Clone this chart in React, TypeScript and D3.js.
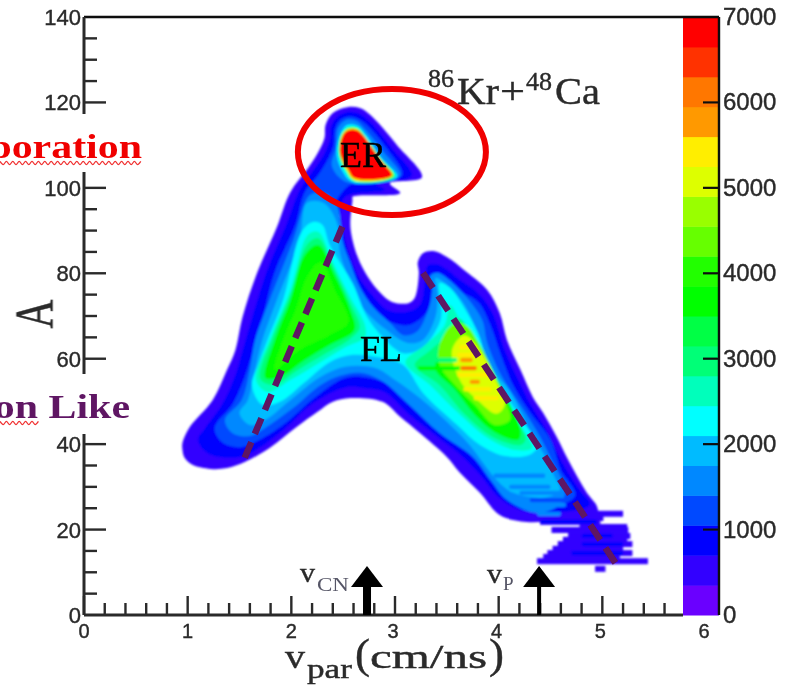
import React from "react";
import * as d3 from "d3";

// 86Kr+48Ca, A vs v_par, ROOT style colz map
type Pt = [number, number];

const width = 793;
const height = 686;

const vTicks = [0, 1, 2, 3, 4, 5, 6];
const aTicks = [0, 20, 40, 60, 80, 100, 120, 140];
const zTicks = [0, 1000, 2000, 3000, 4000, 5000, 6000, 7000];

// palette from bottom (0) to top (7000), 20 bins
const paletteColors = [
  "#6a00ff", "#3000ff", "#0000ff", "#0048ff", "#0088ff",
  "#00bbff", "#00ffff", "#00ffbb", "#00ff77", "#00ff44",
  "#00ff00", "#22ff00", "#66ff00", "#99ff00", "#ddff00",
  "#ffee00", "#ff9900", "#ff7700", "#ff3300", "#ff0000",
];

// contours, [v_par, A]
const contour350: Pt[] = [
  [0.95, 40.3], [0.95, 38.6], [0.97, 36.8], [1.05, 35.1], [1.22, 34.2], [1.38, 34.4], [1.55, 35.8],
  [1.79, 39.1], [2.05, 44.0], [2.25, 47.5], [2.4, 49.9], [2.57, 50.8], [2.88, 49.9], [3.05, 46.4],
  [3.24, 42.6], [3.5, 37.0], [3.62, 33.5], [3.82, 28.6], [4.01, 23.4], [4.27, 21.8], [4.59, 22.2],
  [4.95, 22.7], [4.95, 25.3], [4.85, 28.6], [4.76, 32.3], [4.66, 36.8], [4.56, 41.7], [4.43, 47.3],
  [4.33, 51.0], [4.21, 57.4], [4.08, 64.4], [4.01, 70.7], [3.89, 76.1], [3.69, 80.3], [3.5, 83.8],
  [3.37, 85.2], [3.27, 84.7], [3.22, 82.6], [3.23, 80.1], [3.19, 74.2], [3.13, 73.0], [2.97, 73.3],
  [2.86, 75.4], [2.74, 79.1], [2.64, 83.8], [2.57, 90.8], [2.59, 97.2], [2.59, 97.9], [3.05, 98.8],
  [2.95, 101.1], [3.26, 102.5], [3.02, 110.0], [2.76, 117.1], [2.66, 118.7], [2.54, 118.9], [2.4, 117.5],
  [2.33, 114.7], [2.32, 111.7], [2.26, 108.4], [2.16, 104.6], [1.99, 99.0], [1.86, 90.8], [1.67, 80.1],
  [1.53, 69.8], [1.46, 62.0], [1.38, 57.4], [1.24, 50.3], [1.02, 44.0],
];
const contour700: Pt[] = [
  [1.1, 41.0], [1.19, 37.9], [1.38, 36.8], [1.57, 37.5], [1.89, 42.6], [2.21, 49.6], [2.54, 53.4],
  [2.71, 53.1], [2.9, 52.2], [3.14, 46.8], [3.39, 42.1], [3.63, 37.5], [3.82, 32.8], [4.01, 27.4],
  [4.21, 24.6], [4.59, 24.1], [4.88, 25.8], [4.78, 29.3], [4.6, 36.3], [4.46, 43.3], [4.31, 49.2],
  [4.19, 55.0], [4.06, 62.0], [3.95, 70.2], [3.82, 74.9], [3.63, 78.4], [3.43, 81.9], [3.32, 81.9],
  [3.29, 78.4], [3.24, 72.6], [3.1, 70.9], [2.93, 71.4], [2.78, 74.9], [2.64, 79.6], [2.52, 87.8],
  [2.47, 93.6], [2.52, 97.9], [2.9, 99.5], [2.81, 101.1], [3.16, 102.8], [2.97, 109.3], [2.74, 115.9],
  [2.64, 117.5], [2.55, 117.8], [2.44, 116.6], [2.38, 114.2], [2.37, 111.2], [2.3, 107.2], [2.2, 103.7],
  [2.08, 99.5], [1.95, 91.3], [1.76, 80.3], [1.62, 69.5], [1.53, 62.0], [1.46, 56.2], [1.33, 49.2], [1.17, 43.8],
];
const contour1050: Pt[] = [
  [1.26, 43.8], [1.33, 40.5], [1.5, 39.3], [1.72, 41.4], [1.94, 44.9], [2.23, 51.0], [2.52, 55.5],
  [2.76, 55.5], [2.95, 53.8], [3.19, 49.2], [3.43, 44.5], [3.68, 39.3], [3.92, 32.8], [4.16, 26.9],
  [4.59, 25.8], [4.74, 28.1], [4.6, 33.9], [4.5, 41.0], [4.3, 47.5], [4.14, 53.8], [4.02, 60.9],
  [3.92, 67.9], [3.8, 73.3], [3.58, 76.1], [3.43, 77.3], [3.36, 76.1], [3.32, 71.4], [3.14, 67.9],
  [2.9, 69.1], [2.71, 72.6], [2.57, 77.3], [2.45, 85.5], [2.4, 92.5], [2.45, 97.6], [2.59, 101.1],
  [2.81, 101.8], [3.07, 103.0], [2.93, 108.9], [2.72, 114.9], [2.62, 116.4], [2.54, 116.6], [2.46, 115.6],
  [2.42, 113.5], [2.41, 110.0], [2.35, 106.5], [2.26, 103.0], [2.13, 99.0], [2.04, 91.3], [1.84, 80.3],
  [1.72, 69.1], [1.62, 60.9], [1.54, 55.0], [1.43, 49.2],
];
const contour1400: Pt[] = [
  [1.36, 45.7], [1.43, 42.6], [1.6, 41.9], [1.79, 44.5], [2.02, 48.5], [2.28, 53.8], [2.47, 56.0],
  [2.66, 56.7], [2.86, 55.0], [3.12, 49.6], [3.43, 42.6], [3.75, 37.0], [3.92, 31.6], [4.08, 26.9],
  [4.37, 23.9], [4.59, 25.8], [4.64, 29.3], [4.51, 36.3], [4.4, 41.7], [4.26, 47.3], [4.11, 52.7],
  [4.01, 56.7], [3.89, 63.7], [3.84, 69.1], [3.69, 74.4], [3.5, 78.9], [3.41, 80.1], [3.34, 79.4],
  [3.36, 75.6], [3.31, 70.7], [3.21, 66.3], [3.08, 65.5], [2.95, 68.4], [2.79, 72.1], [2.66, 76.8],
  [2.57, 82.4], [2.5, 87.1], [2.44, 96.0], [2.32, 98.8], [2.18, 98.3], [2.02, 87.8], [1.79, 73.7],
  [1.65, 64.4], [1.6, 57.4], [1.52, 50.3],
];
const contour1750: Pt[] = [
  [1.5, 47.3], [1.6, 44.5], [1.75, 45.7], [1.99, 50.3], [2.28, 55.7], [2.52, 58.1], [2.81, 57.8],
  [3.0, 55.0], [3.24, 50.8], [3.48, 45.7], [3.72, 39.8], [3.85, 35.6], [3.98, 31.6], [4.14, 28.6],
  [4.47, 27.6], [4.59, 29.3], [4.54, 32.3], [4.43, 37.9], [4.31, 42.6], [4.22, 47.3], [4.1, 52.7],
  [3.96, 56.7], [3.84, 62.0], [3.77, 67.4], [3.66, 73.0], [3.48, 77.7], [3.39, 78.9], [3.41, 75.4],
  [3.39, 69.8], [3.27, 64.4], [3.12, 63.7], [2.92, 66.7], [2.73, 70.7], [2.59, 75.4], [2.52, 80.8],
  [2.47, 84.7], [2.44, 91.8], [2.31, 96.5], [2.15, 96.5], [2.08, 87.8], [1.86, 73.7], [1.72, 64.4],
  [1.65, 57.4], [1.58, 50.3],
];
const contour2100: Pt[] = [
  [1.62, 53.8], [1.72, 49.2], [1.89, 49.9], [2.13, 54.5], [2.37, 59.2], [2.59, 60.9], [2.87, 60.2],
  [3.08, 58.5], [3.27, 52.0], [3.6, 44.5], [3.82, 39.8], [4.06, 37.2], [4.3, 37.5], [4.38, 39.8],
  [4.26, 44.5], [4.13, 49.2], [3.98, 55.0], [3.88, 60.2], [3.8, 66.0], [3.68, 71.4], [3.53, 76.6],
  [3.43, 77.7], [3.45, 71.4], [3.43, 68.4], [3.27, 62.7], [3.08, 61.3], [2.88, 65.1], [2.73, 69.8],
  [2.59, 77.7], [2.37, 86.6], [2.3, 91.3], [2.21, 92.0], [2.1, 89.7], [1.92, 73.7], [1.77, 64.4], [1.68, 58.5],
];

// left lobe (fission like, near 2.3 cm/ns)
const lobeLeft2450: Pt[] = [
  [1.66, 55.0], [1.77, 52.2], [1.99, 55.0], [2.28, 59.2], [2.52, 62.7], [2.71, 65.1], [2.71, 67.9],
  [2.57, 74.4], [2.4, 82.6], [2.26, 89.7], [2.16, 89.0], [1.99, 76.1], [1.81, 65.5],
];
const lobeLeft2800: Pt[] = [
  [1.7, 55.3], [1.83, 53.9], [2.06, 57.3], [2.33, 61.2], [2.57, 64.7], [2.66, 67.3], [2.57, 72.9],
  [2.41, 81.1], [2.26, 88.2], [2.15, 86.6], [1.99, 74.9], [1.82, 65.0],
];
const lobeLeft3500: Pt[] = [
  [1.75, 55.5], [1.89, 55.7], [2.13, 59.7], [2.37, 63.2], [2.61, 66.7], [2.57, 71.4], [2.42, 79.6],
  [2.26, 86.6], [2.13, 84.3], [1.99, 73.7], [1.84, 64.4],
];
const lobeLeft3850: Pt[] = [
  [1.84, 57.4], [2.08, 62.0], [2.37, 65.5], [2.55, 68.6], [2.42, 76.1], [2.28, 82.6], [2.16, 79.6],
  [2.04, 71.4], [1.92, 64.4],
];

// right lobe (near 3.8 cm/ns)
const lobeRight2450: Pt[] = [
  [3.1, 59.2], [3.34, 53.8], [3.63, 46.8], [3.92, 41.0], [4.16, 38.6], [4.32, 39.1], [4.21, 44.5],
  [4.06, 51.5], [3.92, 58.5], [3.78, 64.4], [3.63, 69.1], [3.53, 72.6], [3.48, 67.9], [3.29, 63.2],
];
const lobeRight2800: Pt[] = [
  [3.19, 58.5], [3.43, 53.8], [3.68, 46.8], [3.94, 41.7], [4.21, 39.8], [4.26, 41.0], [4.15, 46.8],
  [4.01, 53.8], [3.88, 60.2], [3.74, 66.0], [3.61, 69.5], [3.5, 65.5], [3.34, 62.0],
];
const lobeRight3500: Pt[] = [
  [3.39, 57.4], [3.58, 52.7], [3.77, 46.8], [3.96, 42.8], [4.19, 41.0], [4.21, 43.3], [4.09, 50.3],
  [3.96, 56.2], [3.78, 63.2], [3.65, 67.9], [3.53, 63.2], [3.41, 60.2],
];
const lobeRight4200: Pt[] = [
  [3.43, 63.2], [3.55, 67.9], [3.68, 67.9], [3.82, 63.2], [3.96, 56.2], [4.06, 50.3], [4.11, 45.7],
  [3.96, 44.5], [3.77, 49.2], [3.58, 53.8], [3.43, 58.5],
];
const lobeRight4900: Pt[] = [
  [3.55, 62.0], [3.67, 65.5], [3.82, 62.0], [3.96, 55.5], [4.06, 49.2], [3.98, 47.1], [3.8, 50.2], [3.63, 54.8],
];

// evaporation residue peak
const er1400: Pt[] = [
  [2.43, 109.3], [2.45, 114.0], [2.53, 115.9], [2.63, 115.6], [2.72, 113.5], [2.89, 108.4], [3.05, 103.0],
  [2.95, 101.6], [2.57, 101.1], [2.47, 102.3], [2.39, 105.3],
];
const er2100: Pt[] = [
  [2.47, 112.4], [2.54, 114.7], [2.64, 114.5], [2.72, 112.4], [2.87, 107.0], [3.02, 102.8], [2.95, 101.8],
  [2.59, 101.4], [2.5, 103.7], [2.44, 107.7],
];
const er3150: Pt[] = [
  [2.48, 112.4], [2.55, 114.2], [2.64, 114.0], [2.71, 112.1], [2.86, 107.0], [3.0, 102.8], [2.93, 101.8],
  [2.6, 101.6], [2.53, 103.7], [2.46, 107.7],
];
const er5250: Pt[] = [
  [2.49, 112.4], [2.55, 113.8], [2.63, 113.8], [2.7, 112.1], [2.86, 106.5], [2.98, 103.0], [2.92, 102.1],
  [2.61, 101.8], [2.54, 103.9], [2.47, 107.9],
];
const er6650: Pt[] = [
  [2.5, 112.4], [2.55, 113.5], [2.63, 113.5], [2.69, 112.4], [2.78, 109.3], [2.86, 106.5], [2.97, 103.0],
  [2.92, 102.3], [2.61, 102.3], [2.55, 104.2], [2.47, 108.2],
];

const contourLayers: [number, Pt[]][] = [
  [350, contour350], [700, contour700], [1050, contour1050], [1400, contour1400], [1750, contour1750], [2100, contour2100],
  [2450, lobeLeft2450], [2800, lobeLeft2800], [3500, lobeLeft3500], [3850, lobeLeft3850],
  [2450, lobeRight2450], [2800, lobeRight2800], [3500, lobeRight3500], [4200, lobeRight4200], [4900, lobeRight4900],
  [1400, er1400], [2100, er2100], [3150, er3150], [5250, er5250], [6650, er6650],
];

// low A tail: single mass rows [A, v0, v1]
const tailRows: number[][] = [
  [23.7, 4.37, 5.2], [22.7, 4.27, 5.01], [21.8, 4.4, 4.98], [20.6, 4.78, 5.24], [19.9, 4.51, 5.25],
  [18.5, 4.67, 5.27], [17.6, 4.62, 5.24], [16.6, 4.57, 5.29], [15.5, 4.52, 5.2], [14.5, 4.47, 5.29],
  [13.6, 4.43, 5.17], [12.6, 4.37, 5.44], [10.8, 4.93, 5.03],
];

// stripes from the A binning [A, v0, v1, level]
const stripes: number[][] = [
  [35.8, 3.95, 4.3, 1750], [33.9, 4.05, 4.35, 1750], [32.6, 3.95, 4.45, 1400], [31.1, 4.05, 4.45, 1750],
  [30.0, 4.1, 4.5, 1400], [28.6, 4.2, 4.6, 1400], [26.9, 4.3, 4.65, 1050],
  [25.8, 4.25, 4.65, 1400], [23.7, 4.37, 4.6, 1400], [21.8, 4.4, 4.95, 700], [18.5, 4.8, 5.1, 700],
  [16.6, 4.8, 5.2, 700], [14.5, 4.7, 5.2, 700],
  [57.8, 3.22, 3.63, 3500], [59.7, 3.3, 3.6, 2800],
  [62.7, 3.62, 3.78, 5250], [60.9, 3.6, 3.82, 5250], [56.2, 3.6, 3.93, 5250], [52.9, 3.66, 3.93, 5250], [50.8, 3.76, 4.0, 5250],
  [59.7, 3.63, 3.75, 5600], [57.8, 3.63, 3.79, 5950], [54.6, 3.72, 3.82, 5600],
];

// guide lines [v, A]
const lineFusion: Pt[] = [[1.55, 36.8], [2.52, 92.5]];
const lineDeep: Pt[] = [[3.27, 80.1], [5.14, 11.7]];
const arrowCN = { v: 2.73, tip: 11.5 };
const arrowP = { v: 4.39, tip: 11.5 };
const ring = { v: 2.97, a: 108.4, rv: 0.907, ra: 14.75 };

const ink = "#2a2a2a";
const purple = "#5e1464";
const serif = "'Liberation Serif', serif";
const sans = "'Liberation Sans', sans-serif";

const x = d3.scaleLinear().domain([0, 6]).range([84, 706]);
const y = d3.scaleLinear().domain([0, 140]).range([615, 17]);
const colorOf = d3.scaleQuantize<string>().domain([0, 7000]).range(paletteColors);

const contourPath = d3
  .line<Pt>()
  .x((d) => x(d[0]))
  .y((d) => y(d[1]))
  .curve(d3.curveCatmullRomClosed.alpha(0.5));

const straight = d3
  .line<Pt>()
  .x((d) => x(d[0]))
  .y((d) => y(d[1]));

// wavy spell-check underline
const wave = (x0: number, x1: number, yy: number) =>
  d3
    .line<number>()
    .x((d) => d)
    .y((_, i) => yy + (i % 2 ? 1.6 : -1.6))
    .curve(d3.curveMonotoneX)(d3.range(x0, x1, 3.2));

const Arrow = ({ v, tip, shaft }: { v: number; tip: number; shaft: number }) => {
  const cx = x(v);
  const top = y(tip);
  return (
    <g fill="#000">
      <path d={`M${cx},${top}L${cx + 16},${top + 21}L${cx - 16},${top + 21}Z`} />
      <rect x={cx - shaft / 2} y={top + 20} width={shaft} height={y(0) - top - 20} />
    </g>
  );
};

export default function App() {
  const z = d3.scaleLinear().domain([0, 7000]).range([615, 17]);
  const vMinor = d3.range(0, 5.7, 0.2).filter((d) => Math.abs(d - Math.round(d)) > 0.01);
  const aMinor = d3.range(0, 140, 5).filter((d) => d % 20 !== 0);
  const binW = 7000 / paletteColors.length;

  return (
    <svg
      width={width}
      height={height}
      style={{ position: "absolute", left: 0, top: 0, background: "#fff" }}
    >
      <defs>
        <filter id="soft" x="-5%" y="-5%" width="110%" height="110%">
          <feGaussianBlur stdDeviation="0.9" />
        </filter>
        <filter id="softer" x="-5%" y="-5%" width="110%" height="110%">
          <feGaussianBlur stdDeviation="0.6" />
        </filter>
      </defs>

      {/* palette */}
      <g filter="url(#softer)">
        {paletteColors.map((c, i) => (
          <rect
            key={c}
            x={683}
            width={36}
            y={z(binW * (i + 1))}
            height={z(binW * i) - z(binW * (i + 1)) + 0.5}
            fill={c}
          />
        ))}
      </g>

      {/* map */}
      <g filter="url(#soft)">
        {tailRows.map((r, i) => (
          <rect
            key={i}
            x={x(r[1])}
            width={x(r[2]) - x(r[1])}
            y={y(r[0] + 0.7)}
            height={y(0) - y(1.4)}
            fill={colorOf(350)}
          />
        ))}
        {contourLayers.map(([level, pts], i) => (
          <path key={i} d={contourPath(pts) ?? ""} fill={colorOf(level)} />
        ))}
        {stripes.map((r, i) => (
          <rect
            key={i}
            x={x(r[1])}
            width={x(r[2]) - x(r[1])}
            y={y(r[0] + 0.5)}
            height={y(0) - y(1)}
            rx={2}
            fill={colorOf(r[3])}
          />
        ))}
      </g>

      {/* frame and axes */}
      <g filter="url(#softer)" stroke={ink} fill="none">
        <line x1={84} x2={719} y1={y(140)} y2={y(140)} strokeWidth={2.4} stroke="#111" />
        <line x1={84} x2={84} y1={y(0)} y2={y(140)} strokeWidth={3} />
        <line x1={84} x2={683} y1={y(0)} y2={y(0)} strokeWidth={3} />
        <line x1={719} x2={719} y1={y(0)} y2={y(140)} strokeWidth={2.4} stroke="#111" />
        {vTicks.slice(0, 6).map((d) => (
          <line key={d} x1={x(d)} x2={x(d)} y1={y(0)} y2={y(0) - 19} strokeWidth={2.4} />
        ))}
        {vMinor.map((d) => (
          <line key={d} x1={x(d)} x2={x(d)} y1={y(0)} y2={y(0) - 12} strokeWidth={2.4} />
        ))}
        {aTicks.slice(1, 7).map((d) => (
          <line key={d} x1={84} x2={106} y1={y(d)} y2={y(d)} strokeWidth={2.4} />
        ))}
        {aMinor.map((d) => (
          <line key={d} x1={84} x2={97} y1={y(d)} y2={y(d)} strokeWidth={2.4} />
        ))}
        {zTicks.slice(1, 7).map((d) => (
          <line key={d} x1={703} x2={719} y1={z(d)} y2={z(d)} strokeWidth={2.2} stroke="#111" />
        ))}
      </g>

      {/* pasted labels sit on white boxes that cut the y axis */}
      <rect x={0} y={114} width={143} height={58} fill="#fff" />
      <rect x={0} y={374} width={131} height={60} fill="#fff" />

      <g filter="url(#softer)">
        {/* tick labels */}
        <g fontFamily={sans} fill={ink} stroke={ink} strokeWidth={0.4}>
          {aTicks.map((d) => (
            <text key={d} x={81} y={y(d) + 8} fontSize={22} textAnchor="end">
              {d}
            </text>
          ))}
          {vTicks.map((d) => (
            <text key={d} x={x(d) - (d > 2 ? 2 : 0)} y={638} fontSize={20} textAnchor="middle">
              {d}
            </text>
          ))}
          {zTicks.map((d) => (
            <text key={d} x={723} y={z(d) + 8} fontSize={24} textAnchor="start">
              {d}
            </text>
          ))}
        </g>

        {/* axis titles */}
        <g fontFamily={serif} fill={ink} stroke={ink} strokeWidth={0.4}>
          <text x={285} y={668} fontSize={34} textLength={20} lengthAdjust="spacingAndGlyphs">v</text>
          <text x={307} y={678} fontSize={28} textLength={45} lengthAdjust="spacingAndGlyphs">par</text>
          <text x={355} y={668} fontSize={42} textLength={15} lengthAdjust="spacingAndGlyphs">(</text>
          <text x={370} y={668} fontSize={33} textLength={117} lengthAdjust="spacingAndGlyphs">cm/ns</text>
          <text x={489} y={668} fontSize={42} textLength={15} lengthAdjust="spacingAndGlyphs">)</text>
          <text
            transform="translate(53,314) rotate(-90) scale(1,1.36)"
            fontSize={40}
            textAnchor="middle"
          >
            A
          </text>
        </g>

        {/* reaction and region labels */}
        <g fontFamily={serif} fill={ink} stroke={ink} strokeWidth={0.4}>
          <text x={428} y={87} fontSize={26}>86</text>
          <text x={457} y={104} fontSize={38} textLength={42} lengthAdjust="spacingAndGlyphs">Kr</text>
          <text x={500} y={104} fontSize={38} textLength={25} lengthAdjust="spacingAndGlyphs">+</text>
          <text x={526} y={90} fontSize={26}>48</text>
          <text x={555} y={104} fontSize={38} textLength={45} lengthAdjust="spacingAndGlyphs">Ca</text>
          <text x={300} y={582} fontSize={27} textLength={15} lengthAdjust="spacingAndGlyphs">v</text>
          <text x={317} y={591} fontSize={19} textLength={32} lengthAdjust="spacingAndGlyphs" fill="#556" stroke="none">CN</text>
          <text x={487} y={583} fontSize={27} textLength={15} lengthAdjust="spacingAndGlyphs">v</text>
          <text x={503} y={590} fontSize={19} fill="#556" stroke="none">P</text>
        </g>

        <text
          transform="translate(142,158) scale(1.27,1)"
          fontFamily={serif}
          fontWeight="bold"
          fontSize={33}
          fill="#f00000"
          textAnchor="end"
        >
          Evaporation
        </text>
        <path d={wave(0, 143, 163) ?? ""} fill="none" stroke="#f03030" strokeWidth={1.3} />
        <text
          transform="translate(130,418) scale(1.27,1)"
          fontFamily={serif}
          fontWeight="bold"
          fontSize={33}
          fill={purple}
          textAnchor="end"
        >
          Fission Like
        </text>
        <path d={wave(0, 41, 423) ?? ""} fill="none" stroke="#f03030" strokeWidth={1.3} />

        {/* guides */}
        <path d={straight(lineFusion) ?? ""} stroke={purple} strokeWidth={6.5} strokeDasharray="17 9" fill="none" />
        <path d={straight(lineDeep) ?? ""} stroke={purple} strokeWidth={6.5} strokeDasharray="18 9.5" fill="none" />
        <ellipse
          cx={x(ring.v)}
          cy={y(ring.a)}
          rx={x(ring.rv) - x(0)}
          ry={y(0) - y(ring.ra)}
          fill="none"
          stroke="#f00000"
          strokeWidth={6}
        />
        <Arrow v={arrowCN.v} tip={arrowCN.tip} shaft={8} />
        <Arrow v={arrowP.v} tip={arrowP.tip} shaft={4} />

        <g fontFamily={serif} fill="#000" stroke="#000" strokeWidth={0.5}>
          <text x={340} y={167} fontSize={36}>ER</text>
          <text x={360} y={361} fontSize={36}>FL</text>
        </g>
      </g>
    </svg>
  );
}
